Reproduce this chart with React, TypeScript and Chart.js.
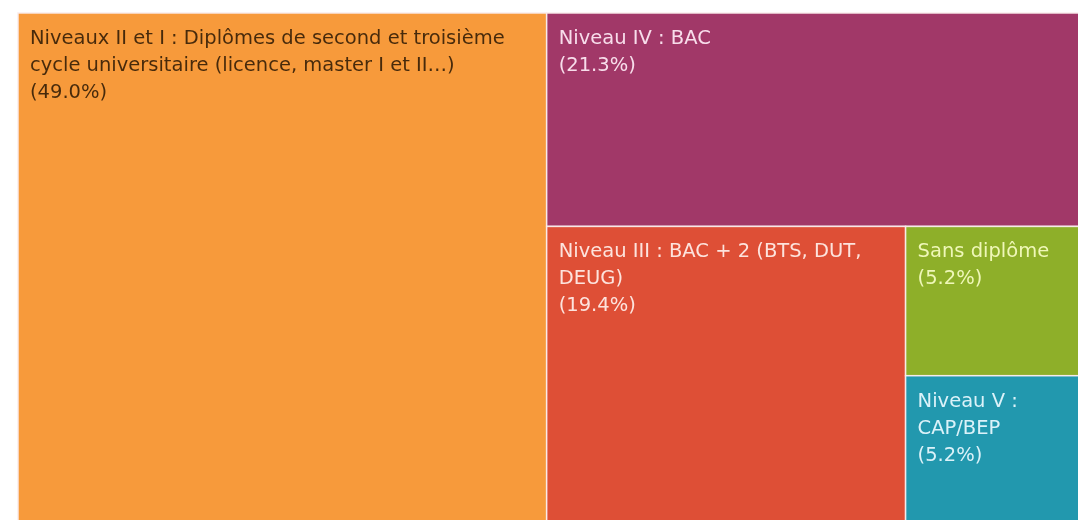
import { useEffect, useRef } from "react";
import { Chart, registerables } from "chart.js";

Chart.register(...registerables);

// ---- data ----
const categories: string[] = [
  "Niveaux II et I : Diplômes de second et troisième cycle universitaire (licence, master I et II…)",
  "Niveau IV : BAC",
  "Niveau III : BAC + 2 (BTS, DUT, DEUG)",
  "Sans diplôme",
  "Niveau V : CAP/BEP",
];
const shares: number[] = [49.0, 21.3, 19.4, 5.2, 5.2];
const cellColors: string[] = ["#F79A3B", "#A13868", "#DE4F36", "#8EAF29", "#2298AE"];
const labelColors: string[] = [
  "rgba(40,22,4,0.85)",
  "rgba(255,236,246,0.92)",
  "rgba(255,240,236,0.92)",
  "rgba(250,255,200,0.9)",
  "rgba(236,250,255,0.92)",
];

const CANVAS_W = 1100;
const CANVAS_H = 527;
const FONT = '19.5px "DejaVu Sans", sans-serif';
const LINE_H = 27;

type Rect = { x0: number; y0: number; x1: number; y1: number };

// alternating slice layout in data units (0..100 both ways)
function layoutCells(values: number[]): Rect[] {
  let x0 = 0, y0 = 0, x1 = 100, y1 = 100;
  let remaining = values.reduce((a, b) => a + b, 0);
  return values.map((v, i) => {
    const frac = v / remaining;
    let r: Rect;
    if (i === values.length - 1) {
      r = { x0, y0, x1, y1 };
    } else if (i % 2 === 0) {
      const xs = x0 + (x1 - x0) * frac;
      r = { x0, y0, x1: xs, y1 };
      x0 = xs;
    } else {
      const ys = y0 + (y1 - y0) * frac;
      r = { x0, y0, x1, y1: ys };
      y0 = ys;
    }
    remaining -= v;
    return r;
  });
}

function wrapText(ctx: CanvasRenderingContext2D, text: string, maxW: number): string[] {
  const words = text.split(" ");
  const lines: string[] = [];
  let cur = "";
  for (const w of words) {
    const test = cur ? cur + " " + w : w;
    if (cur && ctx.measureText(test).width > maxW) {
      lines.push(cur);
      cur = w;
    } else {
      cur = test;
    }
  }
  if (cur) lines.push(cur);
  return lines;
}

const treemapPlugin = {
  id: "treemapCells",
  afterDatasetsDraw(chart: any) {
    const { ctx, scales } = chart;
    const xs = scales.x;
    const ys = scales.y;
    const cells = layoutCells(shares);
    ctx.save();
    cells.forEach((r, i) => {
      const left = xs.getPixelForValue(r.x0);
      const right = xs.getPixelForValue(r.x1);
      const top = ys.getPixelForValue(r.y0);
      const bottom = ys.getPixelForValue(r.y1);
      ctx.fillStyle = cellColors[i];
      ctx.fillRect(left, top, right - left, bottom - top);
      ctx.strokeStyle = "rgba(250,236,236,0.95)";
      ctx.lineWidth = 1.5;
      ctx.strokeRect(left, top, right - left, bottom - top);
    });
    ctx.font = FONT;
    ctx.textBaseline = "alphabetic";
    ctx.textAlign = "left";
    cells.forEach((r, i) => {
      const left = xs.getPixelForValue(r.x0);
      const right = xs.getPixelForValue(r.x1);
      const top = ys.getPixelForValue(r.y0);
      const lines = wrapText(ctx, categories[i], right - left - 24);
      lines.push("(" + shares[i].toFixed(1) + "%)");
      ctx.fillStyle = labelColors[i];
      lines.forEach((ln, k) => {
        ctx.fillText(ln, left + 12, top + 31 + k * LINE_H);
      });
    });
    ctx.restore();
  },
};

export default function App() {
  const ref = useRef<HTMLCanvasElement | null>(null);
  useEffect(() => {
    if (!ref.current) return;
    const chart = new Chart(ref.current, {
      type: "scatter",
      data: { datasets: [{ data: [], pointRadius: 0 }] },
      options: {
        animation: false,
        responsive: false,
        layout: { padding: { left: 18, top: 13, right: 2, bottom: 2 } },
        scales: {
          x: { type: "linear", min: 0, max: 100, display: false },
          y: { type: "linear", min: 0, max: 100, reverse: true, display: false },
        },
        plugins: { legend: { display: false }, tooltip: { enabled: false } },
      },
      plugins: [treemapPlugin],
    });
    return () => chart.destroy();
  }, []);
  return (
    <div style={{ position: "fixed", left: 0, top: 0, width: "100vw", height: "100vh", overflow: "hidden", background: "#fff" }}>
      <canvas ref={ref} width={CANVAS_W} height={CANVAS_H} style={{ display: "block" }} />
    </div>
  );
}
